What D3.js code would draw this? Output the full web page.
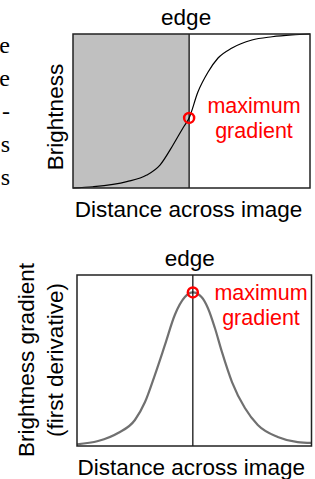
<!DOCTYPE html>
<html>
<head>
<meta charset="utf-8">
<script src="https://cdn.jsdelivr.net/npm/d3@7"></script>
<style>
  html, body { margin: 0; padding: 0; background: #fff; }
  svg { display: block; }
  text { font-family: "Liberation Sans", Arial, sans-serif; }
</style>
</head>
<body>
<svg id="chart" width="315" height="479"></svg>
<script>
// brightness profile across the edge (distance 0-100, brightness 0-1)
const brightX = [0, 8.4, 22.7, 31.1, 36.7, 42.2, 46.4, 49, 52.7, 57, 61.2, 67.1, 75.5, 84, 92.4, 100];
const brightY = [0, 0.008, 0.041, 0.084, 0.149, 0.279, 0.39, 0.455, 0.623, 0.753, 0.844, 0.909, 0.961, 0.982, 0.994, 1];

// first derivative of brightness
const gradX = [0, 9, 17.5, 24.7, 29, 33.2, 37.5, 41.7, 46, 49.4, 53.1, 55.8, 58.8, 61.8, 66.1, 71.6, 77.1, 85.6, 94.1, 100];
const gradY = [0.01, 0.029, 0.076, 0.152, 0.257, 0.415, 0.591, 0.766, 0.871, 0.898, 0.871, 0.807, 0.69, 0.55, 0.374, 0.222, 0.123, 0.053, 0.023, 0.018];

const topEdge = 49;
const bottomEdge = 49.4;

// clipped words of the body text on the left
const sideText = ["e", "e", "-", "s", "s"];

const svg = d3.select("#chart");

function drawPanel(opts) {
  const x = d3.scaleLinear().domain([0, 100]).range([opts.left, opts.right]);
  const y = d3.scaleLinear().domain([0, 1]).range([opts.bottom, opts.top]);
  const g = svg.append("g");

  if (opts.shade) {
    g.append("rect")
      .attr("x", x(0))
      .attr("y", y(1))
      .attr("width", x(opts.edge) - x(0))
      .attr("height", y(0) - y(1))
      .attr("fill", "#c0c0c0");
  }

  const pts = opts.xs.map(function (d, i) { return [d, opts.ys[i]]; });
  const line = d3.line()
    .x(function (d) { return x(d[0]); })
    .y(function (d) { return y(d[1]); })
    .curve(d3.curveMonotoneX);

  g.append("path")
    .datum(pts)
    .attr("d", line)
    .attr("fill", "none")
    .attr("stroke", opts.lineColor)
    .attr("stroke-width", opts.lineWidth);

  // edge marker
  g.append("line")
    .attr("x1", x(opts.edge)).attr("x2", x(opts.edge))
    .attr("y1", y(1)).attr("y2", y(0))
    .attr("stroke", "#000")
    .attr("stroke-width", 1.2);

  g.append("rect")
    .attr("x", x(0))
    .attr("y", y(1))
    .attr("width", x(100) - x(0))
    .attr("height", y(0) - y(1))
    .attr("fill", "none")
    .attr("stroke", "#222")
    .attr("stroke-width", 1.5);

  const edgeIdx = opts.xs.indexOf(opts.edge);
  g.append("circle")
    .attr("cx", x(opts.edge))
    .attr("cy", y(opts.ys[edgeIdx]))
    .attr("r", 5)
    .attr("fill", "none")
    .attr("stroke", "#ff0000")
    .attr("stroke-width", 2.5);

  g.append("text")
    .attr("x", x(opts.edge) - 3)
    .attr("y", y(1) - 9)
    .attr("text-anchor", "middle")
    .attr("font-size", 22.5)
    .text("edge");

  g.selectAll(".red")
    .data(["maximum", "gradient"])
    .enter()
    .append("text")
    .attr("x", opts.redX)
    .attr("y", function (d, i) { return opts.redY + i * 25; })
    .attr("text-anchor", "middle")
    .attr("font-size", 21.5)
    .attr("fill", "#ff0000")
    .text(function (d) { return d; });

  g.append("text")
    .attr("x", (x(0) + x(100)) / 2 - 3)
    .attr("y", y(0) + 29)
    .attr("text-anchor", "middle")
    .attr("font-size", 22.5)
    .text("Distance across image");

  opts.yLabel.forEach(function (t, i) {
    g.append("text")
      .attr("transform", "translate(" + (opts.yLabelX + i * 29) + "," + opts.yLabelY + ") rotate(-90)")
      .attr("text-anchor", "middle")
      .attr("font-size", 22.5)
      .text(t);
  });
}

drawPanel({
  left: 73, right: 310, top: 34, bottom: 188,
  xs: brightX, ys: brightY, edge: topEdge, shade: true,
  lineColor: "#000", lineWidth: 1.2,
  redX: 254, redY: 113,
  yLabel: ["Brightness"], yLabelX: 63, yLabelY: 117
});

drawPanel({
  left: 77, right: 311.5, top: 275, bottom: 446,
  xs: gradX, ys: gradY, edge: bottomEdge, shade: false,
  lineColor: "#707070", lineWidth: 2.2,
  redX: 261, redY: 300,
  yLabel: ["Brightness gradient", "(first derivative)"], yLabelX: 34, yLabelY: 360
});

svg.selectAll(".side")
  .data(sideText)
  .enter()
  .append("text")
  .attr("x", 10)
  .attr("y", function (d, i) { return 53 + i * 33; })
  .attr("text-anchor", "end")
  .attr("font-size", 24)
  .style("font-family", "'Liberation Serif', 'Times New Roman', serif")
  .text(function (d) { return d; });
</script>
</body>
</html>
